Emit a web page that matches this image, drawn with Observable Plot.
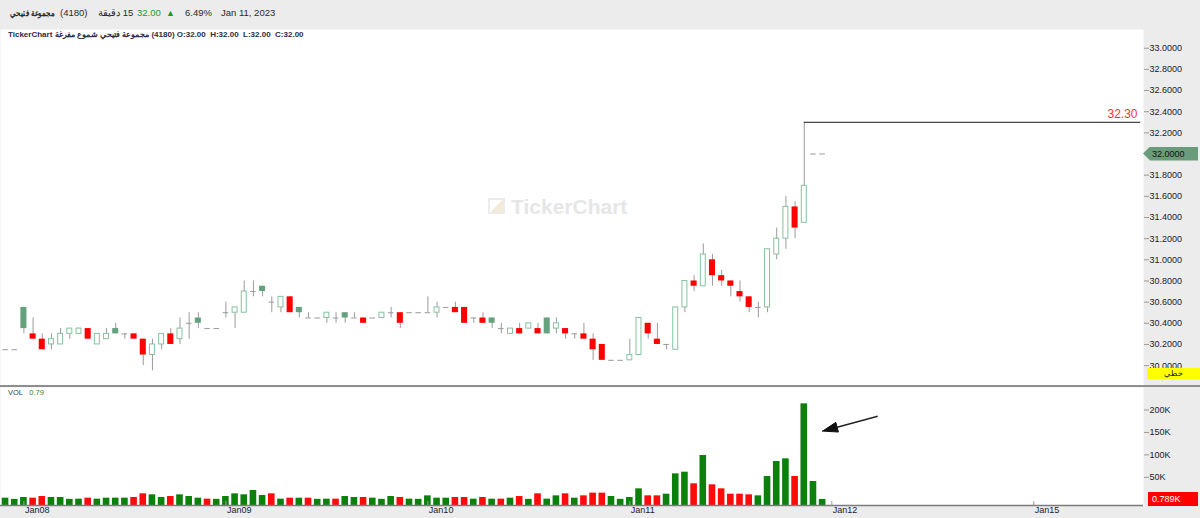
<!DOCTYPE html>
<html><head><meta charset="utf-8">
<script src="https://cdn.jsdelivr.net/npm/d3@7"></script>
<script src="https://cdn.jsdelivr.net/npm/@observablehq/plot@0.6"></script>
<style>
html,body{margin:0;padding:0;background:#fff;width:1200px;height:518px;overflow:hidden;font-family:"Liberation Sans",Arial,sans-serif;}
#root{position:relative;width:1200px;height:518px;}
#header{position:absolute;left:0;top:0;width:1200px;height:29px;background:#ececec;}
.h{position:absolute;top:7px;font-size:9.5px;line-height:12px;color:#2a2a2a;white-space:nowrap;}
#info{position:absolute;left:8px;top:30px;font-size:8px;line-height:10px;font-weight:bold;color:#2c2c48;white-space:nowrap;z-index:3;}
#price{position:absolute;left:0;top:29px;}
#sep{position:absolute;left:0;top:385px;width:1200px;height:2px;background:#8e8e8e;}
#vol{position:absolute;left:0;top:387px;}
#volLbl{position:absolute;left:8px;top:388px;font-size:7.5px;line-height:9px;white-space:nowrap;z-index:3;}
#wm{position:absolute;left:488px;top:196px;white-space:nowrap;color:#e6e6e6;font-weight:bold;font-size:21px;line-height:22px;z-index:2;}
#wm .logo{display:inline-block;width:13px;height:12px;border:2px solid #ececec;vertical-align:0px;margin-right:6px;background:linear-gradient(135deg,#fff 50%,#f4ead8 50%);}
.tag{position:absolute;font-size:9px;line-height:14px;height:14px;white-space:nowrap;z-index:4;}
svg [aria-label="y-axis tick"]{stroke:#9a9a9a;}
svg .tick line{stroke:#9a9a9a;}
</style></head>
<body><div id="root">
<div id="header">
  <span class="h" style="left:10px;font-weight:bold;font-size:9px;display:inline-block;transform:scaleX(0.78);transform-origin:0 50%;"><bdi>مجموعة فتيحي</bdi></span>
  <span class="h" style="left:60px;">(4180)</span>
  <span class="h" style="left:98px;" dir="rtl"><bdi>15 دقيقة</bdi></span>
  <span class="h" style="left:137px;color:#1f9a1f;">32.00</span>
  <span class="h" style="left:166px;color:#1f9a1f;font-size:9px;">▲</span>
  <span class="h" style="left:185px;">6.49%</span>
  <span class="h" style="left:221px;">Jan 11, 2023</span>
</div>
<div id="info">TickerChart <bdi>مجموعة فتيحي شموع مفرغة</bdi> (4180) O:32.00&nbsp; H:32.00&nbsp; L:32.00&nbsp; C:32.00</div>
<div id="price"></div>
<div id="sep"></div>
<div id="vol"></div>
<div id="volLbl"><span style="color:#3a3a5a">VOL</span>&nbsp;&nbsp; <span style="color:#2e8b2e">0.79</span></div>
<div id="wm"><span class="logo"></span>TickerChart</div>
</div>
<script>
// ---------- data (15-minute bars, Fitaihi Group 4180) ----------
const openP  = [30.15,30.15,30.55,30.30,30.25,30.20,30.20,30.30,30.30,30.35,
                30.20,30.25,30.35,30.30,30.30,30.25,30.10,30.20,30.30,30.25,
                30.40,30.45,30.35,30.35,30.50,30.50,30.50,30.70,30.75,30.60,
                30.55,30.65,30.55,30.45,30.45,30.45,30.45,30.50,30.45,30.45,
                30.45,30.45,30.50,30.50,30.50,30.50,30.50,30.50,30.55,30.55,
                30.55,30.45,30.45,30.45,30.35,30.30,30.35,30.35,30.35,30.45,
                30.35,30.35,30.30,30.30,30.25,30.20,30.05,30.05,30.05,30.10,
                30.40,30.25,30.20,30.15,30.55,30.80,30.75,31.00,30.85,30.80,
                30.70,30.65,30.55,30.55,31.05,31.20,31.50,31.35,32.00,32.00];
const highP  = [30.15,30.15,30.55,30.45,30.30,30.30,30.35,30.35,30.35,30.35,
                30.30,30.35,30.40,30.30,30.30,30.25,30.25,30.30,30.35,30.45,
                30.50,30.50,30.35,30.35,30.60,30.55,30.80,30.80,30.75,30.65,
                30.65,30.65,30.55,30.50,30.45,30.50,30.50,30.50,30.50,30.45,
                30.45,30.50,30.55,30.50,30.50,30.50,30.65,30.60,30.55,30.60,
                30.55,30.45,30.50,30.45,30.40,30.35,30.40,30.40,30.40,30.45,
                30.45,30.35,30.30,30.40,30.30,30.20,30.05,30.05,30.25,30.45,
                30.40,30.40,30.20,30.55,30.80,30.85,31.15,31.05,30.90,30.80,
                30.80,30.65,30.60,31.10,31.30,31.60,31.55,32.30,32.00,32.00];
const lowP   = [30.15,30.15,30.30,30.25,30.15,30.15,30.20,30.25,30.30,30.25,
                30.20,30.25,30.30,30.25,30.25,30.00,29.95,30.15,30.20,30.20,
                30.25,30.35,30.35,30.35,30.45,30.35,30.50,30.65,30.65,30.50,
                30.50,30.50,30.45,30.45,30.45,30.40,30.40,30.40,30.45,30.40,
                30.45,30.45,30.45,30.35,30.50,30.50,30.50,30.45,30.55,30.50,
                30.40,30.40,30.40,30.35,30.30,30.30,30.30,30.35,30.30,30.30,
                30.30,30.25,30.25,30.25,30.05,30.05,30.05,30.05,30.05,30.10,
                30.25,30.20,30.15,30.15,30.50,30.70,30.75,30.75,30.75,30.65,
                30.60,30.50,30.45,30.50,31.00,31.10,31.20,31.35,32.00,32.00];
const closeP = [30.15,30.15,30.35,30.25,30.15,30.25,30.30,30.35,30.35,30.25,
                30.30,30.30,30.30,30.30,30.25,30.10,30.20,30.30,30.20,30.35,
                30.40,30.40,30.35,30.35,30.50,30.55,30.70,30.70,30.70,30.60,
                30.65,30.50,30.50,30.45,30.45,30.50,30.45,30.45,30.45,30.40,
                30.45,30.50,30.50,30.40,30.50,30.50,30.50,30.55,30.55,30.50,
                30.40,30.45,30.40,30.40,30.35,30.35,30.30,30.40,30.30,30.30,
                30.40,30.30,30.30,30.25,30.15,30.05,30.05,30.05,30.10,30.45,
                30.30,30.20,30.20,30.55,30.80,30.75,31.05,30.85,30.80,30.75,
                30.65,30.55,30.55,31.10,31.20,31.50,31.30,31.70,32.00,32.00];
const volumeK = [3.6,0.9,5.1,3.6,7.3,5.1,5.1,1.0,1.4,3.6,
                 1.4,3.6,3.6,3.6,5.1,13.3,11.1,5.1,7.3,11.1,
                 7.3,3.6,1.4,1.0,7.3,13.3,11.1,20.7,9.5,13.3,
                 1.4,3.6,3.6,3.6,1.0,1.4,1.4,7.3,5.1,5.1,
                 3.6,1.0,7.3,5.1,1.4,1.0,8.8,3.6,3.6,5.1,
                 5.1,1.4,5.1,1.4,1.4,3.6,7.3,1.0,13.3,1.4,
                 8.8,13.3,3.6,8.8,14.8,14.8,7.3,1.0,5.1,24.4,
                 8.8,8.8,12.5,57.8,61.5,35.6,98.7,33.3,24.4,12.5,
                 12.5,11.1,8.8,51.9,85.3,91.2,51.9,213.7,40.8,0.789];
const dayTickLabels = ["Jan08","Jan09","Jan10","Jan11","Jan12","Jan15"];
const dayTickBars   = [2, 24, 46, 68, 90, 112];
const priceTicks  = [30.0,30.2,30.4,30.6,30.8,31.0,31.2,31.4,31.6,31.8,32.0,32.2,32.4,32.6,32.8,33.0];
const volumeTicks = [50, 100, 150, 200];
const lastPrice = 32.00;
const arrowNote = {fromBar: 95, fromVol: 186, toBar: 89, toVol: 153};

// ---------- derived ----------
const bars = closeP.map((c, i) => {
  const prev = i > 0 ? closeP[i - 1] : c;
  return {i, o: openP[i], h: highP[i], l: lowP[i], c, v: volumeK[i],
          up: c >= prev, doji: openP[i] === c, hollow: c > openP[i]};
});
const days = dayTickLabels.map((t, k) => ({bar: dayTickBars[k], t}));
const hiIdx = d3.maxIndex(highP);
const hiPt = {i: hiIdx, p: highP[hiIdx]};

const GREEN_FILL = "#64a27d", GREEN_LINE = "#86c29f", RED = "#ff0000", WICK = "#9a9a9a";
const W = 1200, AXW = 57;
const xDomain = [-0.55, 123.95];
const priceH = 356, volH = 131, volAxisH = 13;
const priceDomain = [29.812, 33.177];
const volDomain = [-12.7, 250.1];
const font = {fontSize: "9px", fontFamily: "Liberation Sans, Arial, sans-serif", color: "#202030", background: "#ececec", overflow: "visible"};

const pricePlot = Plot.plot({
  width: W, height: priceH, marginLeft: 0, marginRight: AXW, marginTop: 0, marginBottom: 0,
  style: font,
  x: {domain: xDomain, axis: null},
  // the last-price tag covers the tick at the last price, so that label is left to the tag
  y: {domain: priceDomain, axis: "right", ticks: priceTicks.filter(t => t !== lastPrice), tickFormat: d3.format(".4f"), tickSize: 5, tickPadding: 1, label: null},
  marks: [
    Plot.frame({fill: "white", stroke: null}),
    Plot.ruleX(bars.filter(d => d.h > d.l), {x: "i", y1: "l", y2: "h", stroke: WICK, strokeWidth: 1}),
    Plot.ruleY(bars.filter(d => d.doji), {y: "o", x1: d => d.i - 0.3, x2: d => d.i + 0.3, stroke: WICK, strokeWidth: 1}),
    Plot.rect(bars.filter(d => !d.doji && d.hollow), {
      x1: d => d.i - 0.27, x2: d => d.i + 0.27, y1: "o", y2: "c",
      fill: "white", stroke: d => d.up ? GREEN_LINE : RED, strokeWidth: 1}),
    Plot.rect(bars.filter(d => !d.doji && !d.hollow), {
      x1: d => d.i - 0.33, x2: d => d.i + 0.33, y1: "o", y2: "c",
      fill: d => d.up ? GREEN_FILL : RED}),
    Plot.ruleY([hiPt], {y: "p", x1: "i", x2: xDomain[1] - 0.3, stroke: "#1a1a1a", strokeWidth: 1}),
    Plot.text([hiPt], {x: xDomain[1], y: "p", text: d => d.p.toFixed(2), textAnchor: "end", dx: -6, dy: -8, fill: "#ff3030", fontSize: 12})
  ]
});
document.getElementById("price").appendChild(pricePlot);

// arrow head geometry (pixel space -> data space)
const kx = (W - AXW) / (xDomain[1] - xDomain[0]);
const ky = (volH - volAxisH) / (volDomain[1] - volDomain[0]);
const dxp = (arrowNote.toBar - arrowNote.fromBar) * kx;
const dyp = -(arrowNote.toVol - arrowNote.fromVol) * ky;
const len = Math.hypot(dxp, dyp), ux = dxp / len, uy = dyp / len;
const HL = 15, HW = 5;
const toData = (px, py) => ({x: arrowNote.toBar + px / kx, y: arrowNote.toVol - py / ky});
const baseP = toData(-ux * HL, -uy * HL);
const head = [toData(0, 0), toData(-ux * HL - uy * HW, -uy * HL + ux * HW), toData(-ux * HL + uy * HW, -uy * HL - ux * HW), toData(0, 0)];

const volPlot = Plot.plot({
  width: W, height: volH, marginLeft: 0, marginRight: AXW, marginTop: 0, marginBottom: volAxisH,
  style: font,
  x: {domain: xDomain, axis: null},
  y: {domain: volDomain, axis: "right", ticks: volumeTicks, tickFormat: d => d + "K", tickSize: 5, tickPadding: 1, label: null},
  marks: [
    Plot.frame({fill: "white", stroke: null}),
    Plot.rect(bars, {x1: d => d.i - 0.36, x2: d => d.i + 0.36, y1: volDomain[0], y2: "v",
      fill: d => d.up ? "#0b800b" : "#ff0a0a"}),
    Plot.ruleY([volDomain[0]], {x1: xDomain[0], x2: xDomain[1], stroke: "#7c7c7c", strokeWidth: 1.5}),
    Plot.ruleX(days, {x: "bar", y1: volDomain[0], y2: volDomain[0] + 4 / ky, stroke: "#a0a0a0"}),
    Plot.text(days, {x: "bar", text: "t", frameAnchor: "bottom", textAnchor: "start", dx: 1, dy: 7, fill: "#202030", fontSize: 9}),
    Plot.link([{x1: arrowNote.fromBar, y1: arrowNote.fromVol, x2: baseP.x, y2: baseP.y}], {x1: "x1", y1: "y1", x2: "x2", y2: "y2", stroke: "#222", strokeWidth: 1.4}),
    Plot.line(head, {x: "x", y: "y", fill: "#111", stroke: "#111", strokeWidth: 1})
  ]
});
document.getElementById("vol").appendChild(volPlot);

// value tags placed with the plots' own scales
const root = document.getElementById("root");
const py = pricePlot.scale("y").apply(lastPrice) + 29;
const ptag = document.createElement("div");
ptag.className = "tag";
ptag.style.cssText += `left:1143px;top:${py - 7}px;width:55px;background:#6a9c7b;color:#111;padding-left:9px;box-sizing:border-box;clip-path:polygon(0 50%,7px 0,100% 0,100% 100%,7px 100%);`;
ptag.textContent = d3.format(".4f")(lastPrice);
root.appendChild(ptag);

const lastVol = volumeK[volumeK.length - 1];
const vy = volPlot.scale("y").apply(lastVol) + 387;
const vtag = document.createElement("div");
vtag.className = "tag";
vtag.style.cssText += `left:1148px;top:${vy - 7}px;width:50px;background:#ff0000;color:#fff;padding-left:4px;box-sizing:border-box;`;
vtag.textContent = lastVol.toFixed(3) + "K";
root.appendChild(vtag);

const ybox = document.createElement("div");
ybox.className = "tag";
ybox.style.cssText += "left:1147px;top:368px;width:53px;height:11px;line-height:11px;background:#ffff00;color:#222;text-align:center;font-size:8px;";
ybox.textContent = "خطي";
root.appendChild(ybox);
</script>
</body></html>
